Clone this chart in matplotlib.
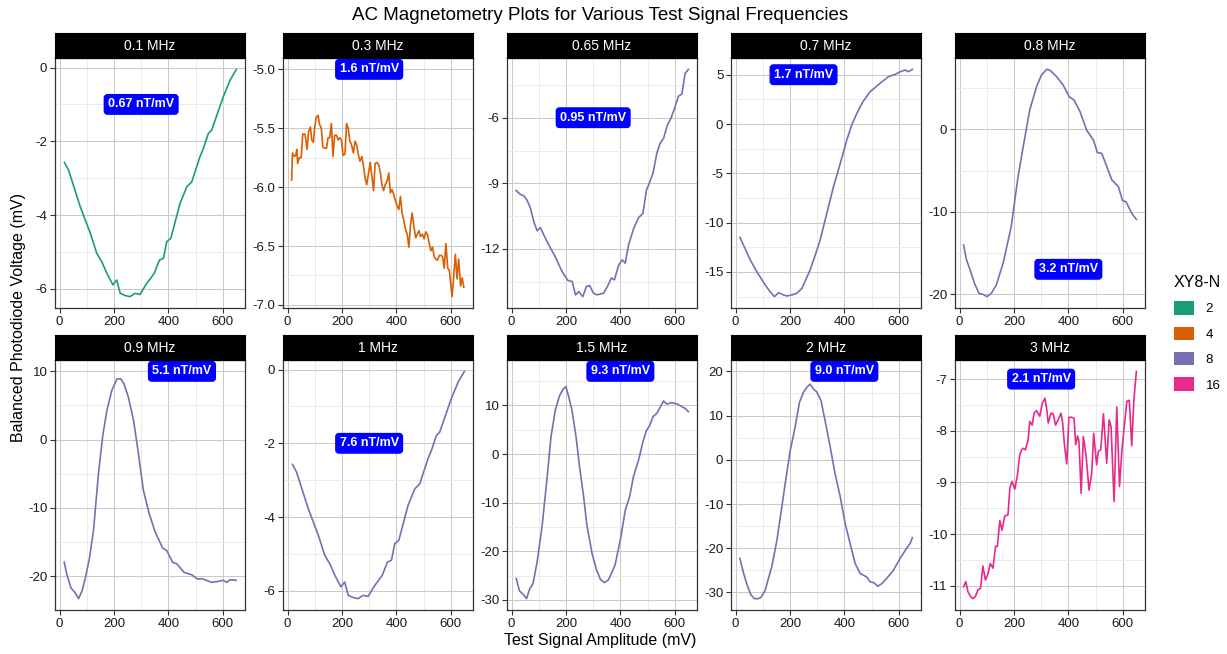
import matplotlib.pyplot as plt
from matplotlib.patches import Patch
from matplotlib.ticker import AutoMinorLocator, FormatStrFormatter

plt.rcParams['font.family'] = ['Liberation Sans', 'DejaVu Sans']
plt.rcParams['axes.unicode_minus'] = False

# facet names, XY8-N group, sensitivity labels
freqs = ["0.1 MHz", "0.3 MHz", "0.65 MHz", "0.7 MHz", "0.8 MHz",
         "0.9 MHz", "1 MHz", "1.5 MHz", "2 MHz", "3 MHz"]
xy8n = [2, 4, 8, 8, 8, 8, 8, 8, 8, 16]
sens = ["0.67 nT/mV", "1.6 nT/mV", "0.95 nT/mV", "1.7 nT/mV", "3.2 nT/mV",
        "5.1 nT/mV", "7.6 nT/mV", "9.3 nT/mV", "9.0 nT/mV", "2.1 nT/mV"]
label_x = [300, 300, 300, 250, 400, 450, 300, 400, 400, 300]
label_y = [-1.0, -5.0, -6.0, 5.0, -17.0, 10.0, -2.0, 17.0, 20.0, -7.0]

groups = [2, 4, 8, 16]
group_colors = ["#1B9E77", "#D95F02", "#7570B3", "#E7298A"]

# test signal amplitude (mV) / balanced photodiode voltage (mV), read per panel
x_01 = [18, 33, 76, 113, 137, 155, 174, 196, 210, 223, 241, 259, 278, 296, 317,
        348, 367, 382, 394, 409, 443, 468, 486, 516, 529, 547, 559, 602, 627, 650]
y_01 = [-2.57, -2.78, -3.77, -4.49, -5.04, -5.26, -5.58, -5.89, -5.76, -6.12,
        -6.18, -6.21, -6.12, -6.15, -5.89, -5.58, -5.22, -5.17, -4.72, -4.63,
        -3.68, -3.23, -3.10, -2.42, -2.19, -1.79, -1.70, -0.79, -0.34, -0.05]

x_03 = [15, 18, 25, 30, 34, 37, 43, 50, 56, 64, 72, 77, 84, 89, 95, 99, 105, 112,
        118, 124, 130, 136, 143, 149, 155, 161, 167, 173, 180, 186, 192, 198, 204,
        211, 217, 223, 229, 235, 242, 248, 254, 260, 266, 273, 279, 285, 291, 297,
        304, 310, 316, 322, 328, 335, 341, 347, 353, 359, 366, 372, 378, 384, 390,
        397, 403, 409, 415, 421, 428, 434, 440, 446, 452, 458, 465, 471, 477, 483,
        489, 496, 502, 508, 514, 520, 527, 533, 539, 545, 551, 558, 564, 570, 576,
        582, 589, 595, 601, 605, 611, 617, 623, 629, 636, 642, 648]
y_03 = [-5.94, -5.71, -5.74, -5.73, -5.68, -5.80, -5.75, -5.75, -5.55, -5.55,
        -5.68, -5.53, -5.49, -5.60, -5.62, -5.51, -5.41, -5.39, -5.47, -5.50,
        -5.66, -5.67, -5.67, -5.58, -5.58, -5.46, -5.74, -5.56, -5.56, -5.60,
        -5.58, -5.60, -5.73, -5.72, -5.46, -5.50, -5.61, -5.64, -5.71, -5.61,
        -5.64, -5.72, -5.78, -5.74, -5.82, -5.92, -5.98, -5.89, -5.79, -5.91,
        -6.03, -5.80, -5.79, -5.81, -5.87, -5.98, -6.03, -5.98, -5.95, -5.88,
        -6.05, -6.02, -6.06, -6.12, -6.16, -6.19, -6.08, -6.22, -6.29, -6.36,
        -6.40, -6.51, -6.32, -6.22, -6.34, -6.43, -6.40, -6.37, -6.42, -6.40,
        -6.44, -6.38, -6.40, -6.47, -6.54, -6.51, -6.59, -6.61, -6.62, -6.58,
        -6.58, -6.59, -6.69, -6.48, -6.69, -6.71, -6.85, -6.93, -6.75, -6.57,
        -6.78, -6.61, -6.84, -6.77, -6.85]

x_065 = [17, 31, 45, 57, 70, 82, 94, 106, 117, 137, 161, 186, 207, 223, 235, 247,
         262, 275, 287, 301, 314, 338, 351, 367, 378, 394, 407, 418, 430, 449, 467,
         483, 496, 504, 520, 534, 546, 559, 573, 586, 601, 614, 626, 638, 650]
y_065 = [-9.33, -9.49, -9.57, -9.77, -10.15, -10.76, -11.17, -11.02, -11.32, -11.82,
         -12.36, -13.04, -13.44, -13.49, -14.10, -13.95, -14.18, -13.72, -13.67,
         -14.02, -14.10, -14.02, -13.75, -13.33, -13.41, -12.73, -12.50, -12.65,
         -11.82, -11.06, -10.57, -10.37, -9.30, -9.07, -8.54, -7.63, -7.17, -6.94,
         -6.33, -6.03, -5.50, -5.01, -4.92, -3.98, -3.79]

x_07 = [16, 29, 54, 78, 109, 127, 143, 158, 176, 189, 207, 225, 244, 274, 293, 311,
        336, 360, 385, 409, 427, 446, 468, 495, 531, 562, 587, 605, 624, 636, 650]
y_07 = [-11.49, -12.26, -13.78, -14.97, -16.32, -17.0, -17.5, -17.1, -17.33, -17.43,
        -17.33, -17.16, -16.66, -14.8, -13.28, -11.76, -9.0, -6.35, -3.99, -1.62,
        -0.1, 1.08, 2.26, 3.28, 4.12, 4.8, 5.03, 5.3, 5.47, 5.3, 5.54]

x_08 = [15, 25, 39, 55, 71, 86, 101, 117, 135, 160, 190, 215, 234, 258, 283, 301,
        320, 332, 357, 381, 403, 421, 443, 467, 492, 507, 523, 539, 560, 584, 599,
        612, 633, 650]
y_08 = [-14.05, -15.79, -17.09, -18.7, -19.9, -20.04, -20.32, -19.9, -18.9, -16.28,
        -11.8, -5.75, -2.1, 2.35, 5.18, 6.6, 7.29, 7.2, 6.4, 5.38, 3.97, 3.56, 2.15,
        -0.08, -1.3, -2.83, -2.91, -4.33, -6.15, -6.96, -8.66, -8.79, -10.2, -10.93]

x_09 = [17, 27, 42, 58, 70, 82, 94, 110, 125, 143, 159, 174, 192, 211, 225, 237,
        253, 272, 290, 308, 329, 351, 379, 394, 416, 431, 458, 486, 507, 523, 559,
        578, 602, 615, 627, 649]
y_09 = [-17.94, -19.79, -21.73, -22.46, -23.29, -22.22, -20.42, -17.36, -13.22,
        -4.96, 0.63, 4.28, 7.19, 8.9, 8.9, 8.17, 6.22, 2.82, -2.04, -7.39, -10.79,
        -13.47, -15.9, -16.24, -17.99, -18.18, -19.45, -19.79, -20.42, -20.37,
        -20.9, -20.8, -20.61, -20.9, -20.52, -20.61]

x_1 = list(x_01)
y_1 = list(y_01)

x_15 = [17, 29, 43, 55, 67, 79, 94, 112, 131, 145, 161, 176, 189, 200, 210, 222,
        237, 250, 265, 277, 296, 312, 327, 341, 355, 366, 381, 402, 418, 434, 448,
        467, 483, 495, 507, 520, 534, 546, 559, 571, 589, 608, 626, 638, 650]
y_15 = [-25.6, -28.14, -28.83, -29.72, -27.66, -26.63, -22.17, -14.96, -4.67, 3.57,
        9.06, 11.94, 13.31, 13.86, 11.8, 9.06, 3.57, -2.61, -8.79, -14.62, -20.45,
        -23.75, -25.81, -26.42, -25.94, -24.71, -22.72, -17.02, -11.53, -8.78,
        -4.67, -1.24, 2.54, 4.74, 5.77, 7.69, 8.37, 9.61, 10.91, 10.29, 10.57,
        10.3, 9.75, 9.4, 8.72]

x_2 = [16, 29, 42, 56, 69, 84, 94, 109, 121, 133, 152, 170, 186, 201, 219, 235,
       250, 262, 274, 287, 299, 314, 329, 348, 366, 385, 403, 421, 440, 458, 482,
       495, 509, 523, 538, 556, 580, 605, 630, 642, 650]
y_2 = [-22.3, -25.56, -28.2, -30.5, -31.4, -31.4, -31.1, -29.5, -26.8, -24.2, -18.2,
       -10.7, -3.9, 2.1, 7.4, 13.0, 15.3, 16.4, 17.1, 16.0, 15.3, 13.4, 8.9, 2.9,
       -3.2, -8.4, -14.4, -18.9, -23.5, -25.7, -26.5, -27.6, -27.8, -28.6, -28.0,
       -26.8, -25.0, -22.3, -19.9, -18.9, -17.6]

x_3 = [15, 23, 31, 41, 49, 58, 68, 77, 86, 95, 105, 113, 123, 132, 139, 148, 156,
       166, 178, 185, 193, 203, 213, 221, 228, 234, 242, 252, 258, 267, 274, 283,
       295, 304, 314, 320, 326, 336, 344, 353, 363, 373, 379, 385, 394, 402, 412,
       421, 427, 434, 439, 447, 455, 465, 476, 486, 493, 504, 510, 519, 529, 541,
       550, 557, 568, 578, 588, 597, 606, 615, 624, 633, 641, 650]
y_3 = [-11.02, -10.92, -11.12, -11.21, -11.25, -11.21, -11.08, -11.05, -10.62,
       -10.89, -10.76, -10.57, -10.66, -10.24, -10.24, -9.74, -9.93, -9.65, -9.63,
       -9.11, -8.98, -9.13, -8.85, -8.47, -8.37, -8.34, -8.37, -8.18, -7.82, -7.89,
       -7.66, -7.61, -7.72, -7.47, -7.37, -7.56, -7.85, -7.66, -7.67, -7.89, -7.78,
       -7.66, -7.85, -8.24, -8.64, -7.74, -7.74, -7.76, -8.27, -8.10, -8.21, -9.21,
       -8.11, -8.47, -9.15, -8.82, -8.05, -8.66, -8.40, -8.37, -7.67, -8.63, -7.79,
       -7.92, -9.37, -7.54, -9.08, -8.37, -7.89, -7.43, -7.41, -8.29, -7.40, -6.85]

xs = [x_01, x_03, x_065, x_07, x_08, x_09, x_1, x_15, x_2, x_3]
ys = [y_01, y_03, y_065, y_07, y_08, y_09, y_1, y_15, y_2, y_3]

x_ticks = [0, 200, 400, 600]
y_ticks = [[-6, -4, -2, 0], [-7.0, -6.5, -6.0, -5.5, -5.0], [-12, -9, -6],
           [-15, -10, -5, 0, 5], [-20, -10, 0], [-20, -10, 0, 10], [-6, -4, -2, 0],
           [-30, -20, -10, 0, 10], [-30, -20, -10, 0, 10, 20], [-11, -10, -9, -8, -7]]

W, H = 1227, 654
fig = plt.figure(figsize=(W / 100, H / 100), dpi=100)
col_left = [55, 283, 507, 731, 955]
row_top = [58, 360]
pw, ph, sh = 190, 250, 25

xmin = min(min(x) for x in xs)
xmax = max(max(x) for x in xs)
xpad = 0.05 * (xmax - xmin)

for i, name in enumerate(freqs):
    r, c = divmod(i, 5)
    left = col_left[c] / W
    bottom = 1 - (row_top[r] + ph) / H
    ax = fig.add_axes([left, bottom, pw / W, ph / H])
    color = group_colors[groups.index(xy8n[i])]
    ax.plot(xs[i], ys[i], color=color, lw=1.2)
    ax.text(label_x[i], label_y[i], sens[i], ha='center', va='center', color='white',
            fontsize=9, fontweight='bold', zorder=5,
            bbox=dict(boxstyle='round,pad=0.3,rounding_size=0.25', fc='#0000FF', ec='#0000FF'))
    lo = min(min(ys[i]), label_y[i])
    hi = max(max(ys[i]), label_y[i])
    ypad = 0.05 * (hi - lo)
    ax.set_ylim(lo - ypad, hi + ypad)
    ax.set_xlim(xmin - xpad, xmax + xpad)
    ax.set_xticks(x_ticks)
    ax.set_yticks(y_ticks[i])
    if any(t != int(t) for t in y_ticks[i]):
        ax.yaxis.set_major_formatter(FormatStrFormatter('%.1f'))
    else:
        ax.yaxis.set_major_formatter(FormatStrFormatter('%d'))
    ax.xaxis.set_minor_locator(AutoMinorLocator(2))
    ax.yaxis.set_minor_locator(AutoMinorLocator(2))
    ax.grid(which='major', color='#c8c8c8', lw=0.7)
    ax.grid(which='minor', color='#e8e8e8', lw=0.6)
    ax.set_axisbelow(True)
    ax.tick_params(which='major', direction='out', length=3.5, width=0.8,
                   color='#333333', labelsize=9.5, labelcolor='#1a1a1a', pad=2)
    ax.tick_params(which='minor', length=0)
    for s in ax.spines.values():
        s.set_color('#333333')
        s.set_linewidth(0.9)

    strip = fig.add_axes([left, 1 - row_top[r] / H, pw / W, sh / H])
    strip.set_facecolor('black')
    strip.set_xticks([])
    strip.set_yticks([])
    for s in strip.spines.values():
        s.set_color('black')
    strip.text(0.5, 0.5, name, color='white', fontsize=10, ha='center', va='center',
               transform=strip.transAxes)

fig.text(600 / W, 1 - 15 / H, "AC Magnetometry Plots for Various Test Signal Frequencies",
         ha='center', va='center', fontsize=13.5)
fig.text(600 / W, 1 - 640 / H, "Test Signal Amplitude (mV)", ha='center', va='center',
         fontsize=11.5)
fig.text(19 / W, 1 - 318 / H, "Balanced Photodiode Voltage (mV)", ha='center',
         va='center', rotation=90, fontsize=11.5)

handles = [Patch(facecolor=col, edgecolor='none', label=str(g))
           for g, col in zip(groups, group_colors)]
leg = fig.legend(handles=handles, title='XY8-N', loc='upper left',
                 bbox_to_anchor=(1162 / W, 1 - 263 / H), frameon=False,
                 fontsize=9.5, title_fontsize=11.5, handlelength=1.5, handleheight=1.2,
                 labelspacing=0.85, handletextpad=0.9, alignment='left')

fig.savefig("out.png", dpi=100)
